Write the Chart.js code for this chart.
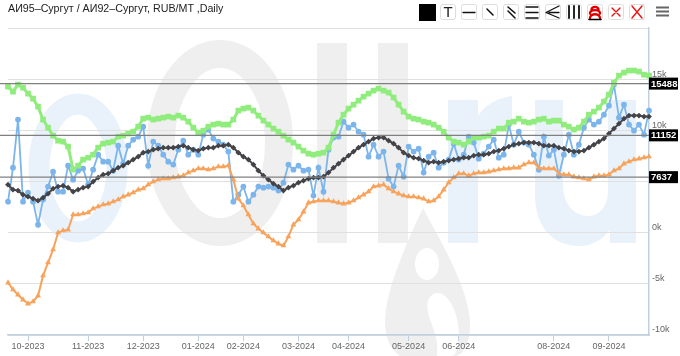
<!DOCTYPE html>
<html>
<head>
<meta charset="utf-8">
<title>АИ95-Сургут / АИ92-Сургут</title>
<script src="https://cdn.jsdelivr.net/npm/chart.js@4"></script>
<style>
  html, body { margin: 0; padding: 0; background: #fff; }
  #wrap { position: relative; width: 680px; height: 356px; overflow: hidden; }
  #wrap svg, #wrap canvas { position: absolute; left: 0; top: 0; }
  #title { position: absolute; left: 8px; top: 2px; font: 10.7px "Liberation Sans", sans-serif; color: #222; white-space: nowrap; }
</style>
</head>
<body>
<div id="wrap">
  <!-- watermark behind the plot -->
  <svg width="680" height="356">
    <ellipse cx="78" cy="168" rx="39" ry="64" fill="none" stroke="#e9f2fa" stroke-width="21"/>
    <ellipse cx="220" cy="143" rx="59" ry="89" fill="none" stroke="#efefef" stroke-width="28"/>
    <rect x="317" y="43" width="30" height="200" fill="#efefef"/>
    <rect x="378" y="43" width="30" height="200" fill="#efefef"/>
    <path d="M448 100H478V116C486 104 498 98 512 96V126C494 127 478 134 478 160V243H448Z" fill="#e9f2fa"/>
    <path d="M535 100H563V185C563 205 575 216 588 216C600 216 608 206 608 190V100H636V243H610V230C602 240 592 246 580 246C552 246 535 226 535 195Z" fill="#e9f2fa"/>
    <path d="M423 208C440 240 470 290 470 325C470 345 462 356 455 356H400C392 350 385 340 385 322C385 290 408 240 423 208Z" fill="#efefef"/>
    <ellipse cx="427" cy="264" rx="12" ry="16" fill="#fff"/>
    <path d="M428 300C438 282 458 300 459 335C459 345 456 356 452 356H437C440 330 424 318 428 300Z" fill="#fff"/>
  </svg>
  <canvas id="oilChart" width="680" height="356"></canvas>
  <div id="title">АИ95–Сургут / АИ92–Сургут, RUB/MT ,Daily</div>
  <!-- toolbar -->
  <svg width="680" height="26" style="pointer-events:none" font-family="Liberation Sans" stroke-linecap="round">
    <rect x="419" y="4" width="17" height="17" fill="#000"/>
    <g fill="#fff" stroke="#ddd">
      <rect x="440.5" y="4.5" width="15" height="15" rx="2"/><rect x="461.5" y="4.5" width="15" height="15" rx="2"/>
      <rect x="482.5" y="4.5" width="15" height="15" rx="2"/><rect x="503.5" y="4.5" width="15" height="15" rx="2"/>
      <rect x="524.5" y="4.5" width="15" height="15" rx="2"/><rect x="545.5" y="4.5" width="15" height="15" rx="2"/>
      <rect x="566.5" y="4.5" width="15" height="15" rx="2"/><rect x="587.5" y="4.5" width="15" height="15" rx="2"/>
      <rect x="608.5" y="4.5" width="15" height="15" rx="2"/><rect x="629.5" y="4.5" width="15" height="15" rx="2"/>
    </g>
    <text x="448" y="17" font-size="15" text-anchor="middle" fill="#222">T</text>
    <g stroke="#111" stroke-width="1.3" fill="none">
      <path d="M463 12.5H475"/>
      <path d="M487 9L493 15" stroke-width="1.5"/>
      <path d="M508 7L515 13M508 11L515 18" stroke-width="1.5"/>
      <path d="M526 7H538M526 12.5H538M526 18H538"/>
      <path d="M546 12.5L559 6M546 12.5L559 18M549 12.5H559"/>
      <path d="M569 6V18M574 6V18M579 6V18" stroke-width="1.8"/>
    </g>
    <g fill="none" stroke="#e00000" stroke-width="2.4"><path d="M590 18C590 13 600 13 600 18M590 13.5C590 9 600 9 600 13.5M591.5 9.5C592 6 598 6 598.5 9.5"/></g>
    <path d="M589 19.5H601" stroke="#000" stroke-width="1.6"/>
    <g stroke="#f01010" stroke-width="1.4"><path d="M612 8L620 16M620 8L612 16"/><path d="M632 6L642 18M642 6L632 18"/></g>
    <g stroke="#666" stroke-width="2" stroke-linecap="butt"><path d="M656 7.5H669M656 11.5H669M656 15.5H669"/></g>
  </svg>
</div>
<script>
// values, one every couple of trading days
const spreadValues = [3030,6350,11050,3030,3910,3030,780,3230,4500,5960,4010,4010,6550,5180,6060,6260,4690,6160,7620,6940,6940,6060,8500,6740,8500,9090,9380,10360,6550,8900,8500,7620,6940,6650,8110,8990,7620,8110,7620,9580,10070,9190,8900,
  8600,7920,3030,3710,4500,3030,3710,4500,4400,4500,4400,4110,4890,6650,6160,6550,6060,6160,3620,6350,4010,8110,9290,9380,10850,10260,10560,9870,9580,7430,8600,7430,7920,5280,4500,6550,5470,8410,7920,8210,5870,7430,
  7820,6350,6840,7140,8700,7140,7620,9380,8800,7230,7720,8410,9090,7330,7620,10560,8600,9870,8800,8600,7620,6160,9380,7530,8110,5570,7620,9580,7620,8600,10260,11050,10560,10850,11530,12410,14470,11240,12510,10560,9970,10560,9580,11930];
const upperBand = [14270,13780,14470,14170,13590,13100,12320,11050,10260,9480,8990,8900,8410,6160,6550,7140,7330,7620,8310,8700,8800,8900,9380,9480,9680,9870,10360,11140,11240,11050,11140,11240,11340,11240,11440,11240,10850,10260,9780,9970,10360,10560,10650,
  10560,10560,11050,11930,12120,12220,11930,11440,10950,10560,10170,9870,9480,9090,8800,8410,8020,7720,7620,7720,7820,8310,9580,10750,11530,12120,12510,12900,13290,13590,13880,14080,13880,13690,13200,12510,11830,11340,11140,11050,10850,10750,
  10560,10260,9870,9290,8900,8800,8600,8900,9290,9290,9380,9480,9870,10170,10170,10750,10850,11140,10850,10750,10850,11050,11140,10850,10950,10950,10560,10360,10070,10260,10850,11530,11830,12220,12810,13490,14660,15350,15640,15840,15840,15740,15440,15350];
const movingAverage = [4690,4200,4110,3710,3520,3320,3130,3420,3810,4300,4500,4590,4400,4010,4200,4400,4500,4990,5380,5670,5770,6060,6350,6550,6840,7140,7430,7820,7920,8110,8210,8310,8310,8310,8410,8500,8310,8110,8020,8210,8310,8310,8500,
  8500,8600,8310,7820,7430,7140,6650,6060,5570,5180,4790,4500,4110,4400,4590,4890,5080,5280,5380,5380,5470,5870,6350,6740,7140,7530,7920,8310,8600,8900,9190,9290,9290,8990,8700,8310,7820,7530,7330,7230,7040,6840,
  6940,6840,6940,7040,7140,7230,7330,7330,7530,7620,7620,7720,7920,8020,8210,8410,8600,8700,8800,8800,8800,8700,8500,8500,8500,8310,8210,8020,7920,7920,8020,8310,8600,8900,9190,9680,10170,10650,11140,11440,11440,11440,11340,11340];
const lowerBand = [-4890,-5570,-6060,-6550,-6940,-6740,-6160,-4200,-2930,-1660,0,200,290,1760,1760,1860,1960,2350,2540,2740,2830,3030,3230,3520,3710,3910,4200,4300,4690,4990,5180,5280,5280,5380,5470,5570,5870,6060,6260,6260,6160,6260,6450,
  6450,6550,5180,3320,2640,1760,880,390,0,-390,-780,-1080,-1270,-390,780,1270,2050,2930,3030,3130,3130,3130,3030,2930,2830,2930,3130,3420,3710,4010,4500,4590,4690,4300,4010,3810,3620,3520,3520,3420,3320,3030,
  3130,3520,4200,4890,5380,5770,5770,5570,5770,5870,5870,5960,6060,6160,6260,6260,6350,6350,6650,6840,6840,6350,6260,6260,6260,5770,5670,5670,5470,5380,5280,5180,5470,5570,5570,5670,6060,6260,6740,6940,7140,7230,7330,7430];

const tickIndexes = [4,16,27,38,47,58,68,80,90,109,120];
const tickLabels = ['10-2023','11-2023','12-2023','01-2024','02-2024','03-2024','04-2024','05-2024','06-2024','08-2024','09-2024'];
const categories = spreadValues.map((_, i) => i);

// the marked levels: where they sit on the axis, and what they are labelled
const levelValues = [14565, 9510, 5425];
const levelLabels = ['15488', '11152', '7637'];

const levelLines = {
  id: 'levelLines',
  afterDatasetsDraw(chart) {
    const { ctx, chartArea, scales } = chart;
    ctx.save();
    levelValues.forEach((v, i) => {
      const y = scales.y.getPixelForValue(v);
      ctx.strokeStyle = '#808080';
      ctx.lineWidth = 1.2;
      ctx.beginPath();
      ctx.moveTo(0, y);
      ctx.lineTo(chartArea.right, y);
      ctx.stroke();
      ctx.fillStyle = '#000';
      ctx.fillRect(chartArea.right, y - 6, 29, 12);
      ctx.fillStyle = '#fff';
      ctx.font = 'bold 9.5px "Liberation Sans", sans-serif';
      ctx.textBaseline = 'middle';
      ctx.fillText(levelLabels[i], chartArea.right + 2, y + 0.5);
    });
    ctx.restore();
  }
};

new Chart(document.getElementById('oilChart'), {
  type: 'line',
  data: {
    labels: categories,
    datasets: [
      { data: movingAverage, borderColor: '#434348', backgroundColor: '#434348', borderWidth: 2, pointStyle: 'rectRot', pointRadius: 1.5, order: 0 },
      { data: lowerBand, borderColor: '#f7a35c', backgroundColor: '#f7a35c', borderWidth: 2, pointStyle: 'triangle', pointRadius: 1.4, order: 1 },
      { data: upperBand, borderColor: '#90ed7d', backgroundColor: '#90ed7d', borderWidth: 3, pointStyle: 'rect', pointRadius: 1.9, order: 2 },
      { data: spreadValues, borderColor: '#7cb5ec', backgroundColor: '#7cb5ec', borderWidth: 1.8, pointStyle: 'circle', pointRadius: 2, order: 3 }
    ]
  },
  options: {
    responsive: false,
    animation: false,
    events: [],
    layout: { padding: { top: 28, left: 8, right: 0, bottom: 0 } },
    plugins: { legend: { display: false }, tooltip: { enabled: false } },
    scales: {
      x: {
        offset: false,
        afterBuildTicks: axis => { axis.ticks = axis.ticks.filter(t => tickIndexes.includes(t.value)); },
        afterFit: axis => { axis.height = 21; },
        grid: { drawOnChartArea: false, tickLength: 6, tickColor: '#c0d0e0' },
        border: { color: '#c0d0e0', width: 1.5 },
        ticks: {
          autoSkip: false, maxRotation: 0, padding: 0, color: '#666',
          font: { family: '"Liberation Sans", sans-serif', size: 9 },
          callback: value => tickLabels[tickIndexes.indexOf(value)]
        }
      },
      y: {
        position: 'right',
        min: -10000,
        max: 20000,
        afterFit: axis => { axis.width = 31; },
        grid: { color: '#e0e0e0', lineWidth: 1, drawTicks: false },
        border: { color: '#c0d0e0', width: 1.5 },
        ticks: {
          stepSize: 5000, padding: 3, labelOffset: -5, color: '#666',
          font: { family: '"Liberation Sans", sans-serif', size: 9 },
          callback: value => (value >= 20000 ? '' : (value / 1000) + 'k')
        }
      }
    }
  },
  plugins: [levelLines]
});
</script>
</body>
</html>
